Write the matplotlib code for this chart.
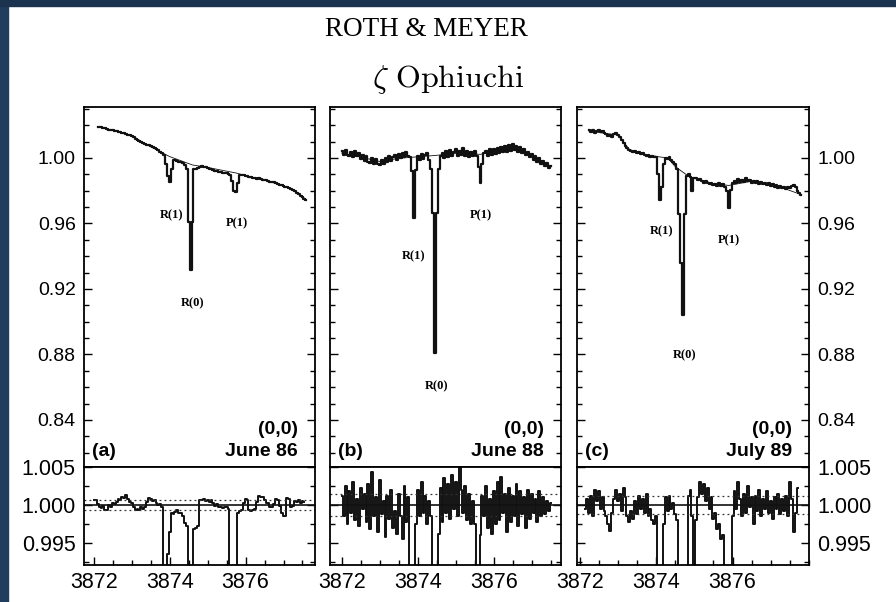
import numpy as np
import matplotlib.pyplot as plt
from matplotlib.ticker import MultipleLocator, FixedLocator, FormatStrFormatter
from matplotlib.patches import Rectangle

plt.rcParams['font.family'] = ['Liberation Sans', 'DejaVu Sans']
plt.rcParams['mathtext.fontset'] = 'cm'

############################# data ###########################
# spectra sampled every 0.05 A, values read off the scan
step = 0.05

# (a) June 86
start_a = 3872.10
flux_a = [1.0191, 1.0188, 1.0186, 1.0180, 1.0181, 1.0176, 1.0172, 1.0173, 1.0168, 1.0165,
          1.0166, 1.0160, 1.0158, 1.0154, 1.0152, 1.0147, 1.0143, 1.0140, 1.0133, 1.0126,
          1.0118, 1.0112, 1.0105, 1.0100, 1.0092, 1.0088, 1.0080, 1.0077, 1.0070, 1.0066,
          1.0058, 1.0052, 1.0047, 1.0038, 1.0032, 1.0020, 0.9965, 0.9890, 0.9855, 0.9930,
          0.9990, 0.9985, 0.9982, 0.9978, 0.9975, 0.9972, 0.9958, 0.9930, 0.9610, 0.9316,
          0.9610, 0.9930, 0.9935, 0.9940, 0.9945, 0.9950, 0.9947, 0.9942, 0.9940, 0.9934,
          0.9930, 0.9928, 0.9922, 0.9920, 0.9915, 0.9916, 0.9910, 0.9908, 0.9905, 0.9902,
          0.9898, 0.9860, 0.9800, 0.9794, 0.9850, 0.9893, 0.9896, 0.9893, 0.9890, 0.9889,
          0.9884, 0.9886, 0.9880, 0.9877, 0.9874, 0.9876, 0.9869, 0.9866, 0.9864, 0.9866,
          0.9858, 0.9856, 0.9851, 0.9853, 0.9846, 0.9840, 0.9836, 0.9833, 0.9830, 0.9825,
          0.9820, 0.9815, 0.9810, 0.9805, 0.9796, 0.9788, 0.9780, 0.9770, 0.9762, 0.9752,
          0.9744]
fit_wave_a = [3872.10, 3872.50, 3873.00, 3873.40, 3873.80, 3874.00, 3874.60, 3875.00,
              3875.75, 3876.05, 3876.50, 3876.90, 3877.25, 3877.60]
fit_flux_a = [1.0191, 1.0168, 1.0137, 1.0080, 1.0032, 1.0008, 0.9957, 0.9942,
              0.9908, 0.9889, 0.9865, 0.9836, 0.9805, 0.9746]
res_start_a = 3872.00
resid_a = [1.0007, 1.0006, 1.0001, 0.9998, 0.9996, 0.9999, 0.9993, 0.9994, 1.0000, 0.9998,
           1.0003, 1.0001, 1.0004, 1.0008, 1.0006, 1.0010, 1.0009, 1.0013, 1.0008, 1.0004,
           1.0003, 0.9998, 0.9994, 0.9995, 0.9993, 0.9997, 0.9995, 0.9998, 1.0004, 1.0009,
           1.0008, 1.0005, 1.0006, 1.0002, 1.0000, 1.0001, 0.9998, 0.9850, 0.9830, 0.9935,
           0.9964, 0.9990, 0.9988, 0.9991, 0.9993, 0.9989, 0.9990, 0.9985, 0.9976, 0.9972,
           0.9900, 0.9630, 0.9340, 0.9968, 0.9970, 0.9972, 1.0007, 1.0006, 1.0008, 1.0005,
           1.0007, 1.0004, 1.0006, 1.0002, 0.9999, 1.0001, 0.9998, 0.9997, 0.9996, 0.9998,
           0.9997, 0.9995, 0.9900, 0.9860, 0.9800, 0.9870, 0.9990, 0.9992, 0.9994, 1.0002,
           1.0008, 1.0006, 0.9993, 0.9992, 0.9994, 0.9995, 1.0004, 1.0012, 1.0010, 1.0010,
           1.0006, 1.0003, 1.0002, 0.9998, 0.9997, 1.0001, 1.0008, 1.0006, 0.9999, 0.9990,
           0.9985, 0.9986, 1.0009, 1.0008, 0.9998, 0.9999, 1.0005, 1.0004, 1.0006, 1.0002,
           1.0005, 1.0004]
sigma_a = 0.0006

# (b) June 88
start_b = 3872.00
flux_b = [1.0040, 1.0015, 1.0048, 1.0020, 1.0012, 1.0036, 1.0004, 1.0040, 1.0010, 1.0028,
          0.9995, 1.0018, 0.9984, 1.0010, 0.9976, 0.9968, 0.9998, 0.9960, 0.9992, 0.9965,
          0.9955, 0.9988, 0.9962, 0.9998, 0.9978, 1.0012, 0.9980, 1.0004, 1.0018, 0.9988,
          1.0024, 0.9998, 1.0032, 1.0004, 1.0038, 1.0010, 1.0008, 0.9920, 0.9632, 0.9925,
          1.0012, 0.9986, 1.0022, 0.9992, 1.0018, 1.0030, 0.9985, 0.9930, 0.9662, 0.8807,
          0.9662, 0.9935, 1.0010, 1.0028, 0.9998, 1.0040, 1.0006, 1.0048, 1.0010, 1.0036,
          1.0054, 1.0012, 1.0044, 1.0016, 1.0058, 1.0014, 1.0042, 1.0004, 1.0038, 1.0012,
          1.0040, 1.0010, 0.9945, 0.9845, 0.9960, 1.0030, 1.0044, 1.0010, 1.0052, 1.0018,
          1.0056, 1.0024, 1.0062, 1.0028, 1.0066, 1.0034, 1.0072, 1.0038, 1.0078, 1.0044,
          1.0084, 1.0048, 1.0074, 1.0038, 1.0064, 1.0028, 1.0052, 1.0016, 1.0038, 1.0004,
          1.0026, 0.9990, 1.0014, 0.9978, 0.9998, 0.9964, 0.9984, 0.9952, 0.9970, 0.9940,
          0.9952]
fit_wave_b = [3872.00, 3872.50, 3873.00, 3873.50, 3873.90, 3874.45, 3875.00, 3875.65,
              3876.45, 3877.00, 3877.50]
fit_flux_b = [1.0030, 1.0005, 0.9978, 0.9998, 1.0005, 1.0015, 1.0028, 1.0022,
              1.0060, 1.0015, 0.9950]
res_start_b = 3872.00
resid_b = [1.0012, 0.9985, 1.0025, 0.9975, 1.0018, 0.9990, 1.0030, 0.9980, 1.0008, 0.9972,
           1.0022, 0.9995, 1.0015, 0.9978, 1.0028, 0.9968, 1.0043, 0.9985, 1.0010, 0.9965,
           1.0033, 0.9988, 1.0005, 0.9958, 1.0012, 0.9982, 1.0020, 0.9970, 0.9992, 0.9962,
           1.0015, 0.9985, 0.9955, 1.0025, 0.9978, 1.0010, 0.9900, 0.9620, 0.9910, 0.9975,
           1.0020, 0.9985, 1.0030, 0.9990, 1.0012, 0.9975, 1.0005, 0.9985, 0.9660, 0.8800,
           0.9660, 0.9962, 1.0022, 0.9978, 1.0035, 0.9990, 1.0028, 0.9982, 1.0040, 0.9995,
           1.0030, 0.9985, 1.0050, 1.0020, 0.9990, 1.0025, 0.9980, 1.0015, 0.9975, 1.0005,
           0.9975, 0.9880, 0.9840, 0.9960, 1.0012, 0.9985, 1.0025, 0.9970, 1.0008, 0.9962,
           1.0018, 0.9975, 1.0030, 0.9980, 1.0037, 0.9990, 1.0015, 0.9965, 1.0022, 0.9978,
           1.0012, 0.9985, 1.0028, 0.9972, 1.0018, 0.9988, 1.0010, 0.9970, 1.0020, 0.9982,
           1.0015, 0.9990, 1.0008, 0.9978, 1.0018, 0.9985, 1.0010, 0.9988, 1.0005, 0.9992,
           1.0002]
sigma_b = 0.0015

# (c) July 89
start_c = 3872.25
flux_c = [1.0171, 1.0160, 1.0168, 1.0155, 1.0165, 1.0170, 1.0158, 1.0162, 1.0150, 1.0144,
          1.0132, 1.0140, 1.0128, 1.0146, 1.0150, 1.0138, 1.0125, 1.0110, 1.0092, 1.0075,
          1.0062, 1.0050, 1.0045, 1.0038, 1.0040, 1.0030, 1.0034, 1.0022, 1.0030, 1.0018,
          1.0012, 1.0020, 1.0008, 1.0012, 1.0004, 1.0008, 0.9900, 0.9744, 0.9820, 0.9965,
          1.0002, 0.9995, 1.0004, 0.9990, 0.9975, 0.9962, 0.9935, 0.9660, 0.9360, 0.9041,
          0.9660, 0.9890, 0.9900, 0.9885, 0.9800, 0.9880, 0.9875, 0.9866, 0.9872, 0.9858,
          0.9850, 0.9862, 0.9845, 0.9838, 0.9850, 0.9832, 0.9840, 0.9826, 0.9845, 0.9830,
          0.9838, 0.9822, 0.9800, 0.9693, 0.9805, 0.9850, 0.9862, 0.9848, 0.9870, 0.9855,
          0.9866, 0.9852, 0.9875, 0.9860, 0.9868, 0.9850, 0.9862, 0.9845, 0.9858, 0.9842,
          0.9852, 0.9838, 0.9846, 0.9832, 0.9845, 0.9828, 0.9840, 0.9822, 0.9835, 0.9818,
          0.9830, 0.9815, 0.9825, 0.9812, 0.9822, 0.9815, 0.9828, 0.9835, 0.9820, 0.9800,
          0.9785, 0.9774]
fit_wave_c = [3872.25, 3873.00, 3873.30, 3873.70, 3874.10, 3874.30, 3874.50, 3874.85,
              3875.50, 3875.90, 3876.50, 3877.20, 3877.80]
fit_flux_c = [1.0163, 1.0140, 1.0052, 1.0022, 1.0006, 1.0000, 0.9947, 0.9888,
              0.9843, 0.9832, 0.9858, 0.9826, 0.9776]
res_start_c = 3872.15
resid_c = [0.9995, 1.0008, 0.9990, 1.0012, 0.9985, 1.0020, 1.0005, 1.0018, 0.9995, 1.0010,
           0.9992, 0.9985, 0.9975, 0.9966, 0.9990, 1.0008, 1.0020, 1.0005, 1.0015, 0.9992,
           1.0022, 1.0010, 0.9985, 0.9978, 0.9992, 0.9982, 1.0005, 0.9988, 1.0012, 0.9995,
           1.0008, 0.9990, 1.0015, 0.9985, 0.9995, 0.9980, 0.9975, 0.9985, 0.9850, 0.9740,
           0.9830, 0.9975, 1.0010, 0.9992, 1.0012, 0.9995, 1.0002, 0.9988, 0.9980, 0.9700,
           0.9400, 0.9100, 0.9700, 0.9900, 1.0012, 1.0020, 0.9985, 0.9900, 0.9980, 1.0010,
           1.0030, 1.0015, 1.0028, 1.0005, 1.0022, 0.9995, 1.0010, 0.9982, 0.9990, 0.9968,
           0.9975, 0.9955, 0.9960, 0.9880, 0.9800, 0.9700, 0.9920, 0.9985, 1.0018, 0.9995,
           1.0030, 1.0008, 0.9985, 1.0015, 0.9990, 1.0025, 0.9998, 1.0010, 0.9975, 1.0012,
           0.9992, 1.0020, 0.9985, 1.0008, 0.9995, 1.0018, 0.9990, 1.0005, 0.9982, 1.0010,
           0.9995, 1.0015, 0.9988, 1.0008, 0.9992, 1.0012, 0.9985, 1.0030, 1.0008, 0.9965,
           0.9990, 1.0022]
sigma_c = 0.0012

line_names = ['R(1)', 'R(0)', 'P(1)']
panel_tags = ['(a)', '(b)', '(c)']
band = '(0,0)'
dates = ['June 86', 'June 88', 'July 89']
x_major = [3872, 3874, 3876]

############################# figure ###########################
fig = plt.figure(figsize=(8.96, 6.02), dpi=100)
fig.patch.set_facecolor('white')

# dark frame of the screenshot
fig.patches.append(Rectangle((0, 0), 8 / 896, 1, transform=fig.transFigure,
                             color='#203d5e', zorder=0))
fig.patches.append(Rectangle((0, 1 - 6 / 602), 1, 6 / 602, transform=fig.transFigure,
                             color='#1b334f', zorder=0))

fig.text(0.4754, 0.951, 'ROTH & MEYER', ha='center', va='center',
         fontsize=19.5, family='Liberation Serif')
fig.text(0.50, 0.868, r'$\zeta\ \mathrm{Ophiuchi}$', ha='center', va='center',
         fontsize=23)

panels = [
    dict(start=start_a, flux=flux_a, fw=fit_wave_a, ff=fit_flux_a,
         rstart=res_start_a, resid=resid_a, sig=sigma_a,
         left=84, width=231, xlim=(3871.74, 3877.83),
         lab=[(3874.06, 0.9652), (3874.61, 0.9114), (3875.76, 0.9603)]),
    dict(start=start_b, flux=flux_b, fw=fit_wave_b, ff=fit_flux_b,
         rstart=res_start_b, resid=resid_b, sig=sigma_b,
         left=330, width=231, xlim=(3871.69, 3877.77),
         lab=[(3873.88, 0.9397), (3874.50, 0.8603), (3875.66, 0.9652)]),
    dict(start=start_c, flux=flux_c, fw=fit_wave_c, ff=fit_flux_c,
         rstart=res_start_c, resid=resid_c, sig=sigma_c,
         left=577, width=232, xlim=(3871.93, 3878.0),
         lab=[(3874.14, 0.9550), (3874.75, 0.8797), (3875.91, 0.9499)]),
]

W, H = 896.0, 602.0
up_bot, up_top = 467, 107
lo_bot, lo_top = 565, 467

def style(ax, size):
    for s in ax.spines.values():
        s.set_linewidth(1.3)
    ax.tick_params(which='both', direction='in', width=1.0, labelsize=size,
                   left=True, right=True, top=False, bottom=False,
                   labelleft=False, labelright=False, labelbottom=False)
    ax.tick_params(which='major', length=6, pad=6)
    ax.tick_params(which='minor', length=3.5)

for k, p in enumerate(panels):
    x0 = p['left'] / W
    w = p['width'] / W
    ax = fig.add_axes([x0, 1 - up_bot / H, w, (up_bot - up_top) / H])
    axr = fig.add_axes([x0, 1 - lo_bot / H, w, (lo_bot - lo_top) / H], sharex=ax)

    wave = p['start'] + step * np.arange(len(p['flux']))
    ax.step(wave, p['flux'], where='mid', color='#111111', lw=1.6)
    ax.plot(p['fw'], p['ff'], color='#111111', lw=0.6)
    ax.set_xlim(*p['xlim'])
    ax.set_ylim(0.8113, 1.0311)
    style(ax, 14)
    ax.yaxis.set_major_locator(FixedLocator([0.84, 0.88, 0.92, 0.96, 1.00]))
    ax.yaxis.set_minor_locator(MultipleLocator(0.01))
    ax.yaxis.set_major_formatter(FormatStrFormatter('%.2f'))

    for name, (lx, ly) in zip(line_names, p['lab']):
        ax.text(lx, ly, name, ha='center', va='center', fontsize=9,
                family='Liberation Serif', fontweight='bold')
    ax.text(0.035, 0.042, panel_tags[k], transform=ax.transAxes, ha='left',
            va='center', fontsize=14, fontweight='bold')
    ax.text(0.927, 0.103, band, transform=ax.transAxes, ha='right',
            va='center', fontsize=14, fontweight='bold')
    ax.text(0.927, 0.042, dates[k], transform=ax.transAxes, ha='right',
            va='center', fontsize=14, fontweight='bold')

    # residuals
    rwave = p['rstart'] + step * np.arange(len(p['resid']))
    axr.step(rwave, p['resid'], where='mid', color='#111111', lw=1.4)
    axr.axhline(1.0, color='#111111', lw=1.2)
    axr.axhline(1.0 + p['sig'], color='#333333', lw=0.9, ls=(0, (1.5, 2.5)))
    axr.axhline(1.0 - p['sig'], color='#333333', lw=0.9, ls=(0, (1.5, 2.5)))
    axr.set_ylim(0.9921, 1.005)
    style(axr, 15.5)
    axr.tick_params(which='both', bottom=True, labelbottom=True)
    axr.tick_params(axis='x', which='major', pad=5)
    axr.yaxis.set_major_locator(FixedLocator([0.995, 1.000, 1.005]))
    axr.yaxis.set_minor_locator(MultipleLocator(0.0025))
    axr.yaxis.set_major_formatter(FormatStrFormatter('%.3f'))
    axr.xaxis.set_major_locator(FixedLocator(x_major))
    axr.xaxis.set_minor_locator(MultipleLocator(0.5))
    axr.xaxis.set_major_formatter(FormatStrFormatter('%d'))

    if k == 0:
        ax.tick_params(labelleft=True)
        axr.tick_params(labelleft=True)
    if k == 2:
        ax.tick_params(labelright=True)
        axr.tick_params(labelright=True)

fig.savefig('out.png', dpi=100)
